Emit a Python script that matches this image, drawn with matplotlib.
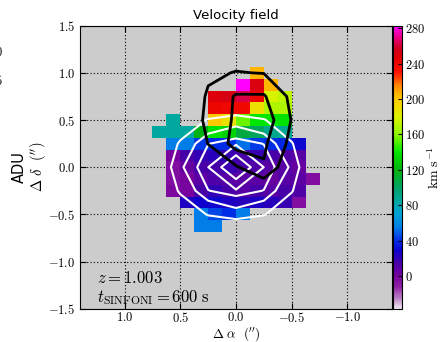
import numpy as np
import matplotlib
matplotlib.use('Agg')
import matplotlib.pyplot as plt
from matplotlib.colors import LinearSegmentedColormap

plt.rcParams['mathtext.fontset'] = 'cm'
plt.rcParams['font.family'] = ['DejaVu Sans']

nan = np.nan

# ---- velocity map (SINFONI pixels, 0.125") ----
alpha_pix = [0.6875, 0.5625, 0.4375, 0.3125, 0.1875, 0.0625,
             -0.0625, -0.1875, -0.3125, -0.4375, -0.5625, -0.6875]
delta_pix = [1.0, 0.875, 0.75, 0.625, 0.5, 0.375, 0.25, 0.125,
             0.0, -0.125, -0.25, -0.375, -0.5, -0.625]
velocity = [
    [nan, nan, nan, nan, nan, nan, nan, 205, nan, nan, nan, nan],
    [nan, nan, nan, nan, nan, nan, 283, 250, 205, nan, nan, nan],
    [nan, nan, nan, nan, 248, 252, 262, 240, 178, 172, nan, nan],
    [nan, nan, nan, nan, 240, 238, 238, 190, 168, 168, nan, nan],
    [nan, 85, nan, nan, 200, 188, 155, 140, 140, 138, nan, nan],
    [85, 85, 85, 118, 138, 132, 108, 102, 90, 88, nan, nan],
    [nan, 55, 55, 42, 40, 40, 52, 42, 40, 38, 30, nan],
    [nan, 0, 15, 20, 22, 18, 15, 18, 15, 12, 10, nan],
    [nan, -5, 5, 15, 15, 18, 15, 12, 10, 10, 5, nan],
    [nan, -5, 0, 8, 12, 10, 8, 8, 5, 10, 8, -5],
    [nan, -3, 0, 15, 20, 15, 10, 15, 10, 15, 12, nan],
    [nan, nan, 25, 28, 30, 25, 22, 25, 22, 18, -5, nan],
    [nan, nan, nan, 55, 45, 40, 55, nan, nan, nan, nan, nan],
    [nan, nan, nan, 55, 55, nan, nan, nan, nan, nan, nan, nan],
]
vel_range = [-37, 283]

# ---- continuum flux (white contours) ----
alpha_cont = [0.75, 0.5, 0.25, 0.0, -0.25, -0.5, -0.75]
delta_cont = [0.75, 0.5, 0.25, 0.0, -0.25, -0.5, -0.75]
flux_cont = [
    [2, 5, 8, 7, 8, 5, 2],
    [5, 18, 31, 35.8, 31, 18, 5],
    [10, 32, 44.8, 47.6, 44.8, 31, 9],
    [15, 37.6, 49.8, 93, 49.8, 37.6, 10],
    [10, 32, 44.8, 47.6, 44.8, 31, 9],
    [5, 18, 31, 35.8, 31, 18, 5],
    [2, 5, 8, 7, 8, 5, 2],
]
levels_cont = [30, 39, 45, 50, 70]

# ---- line flux (black contours) ----
alpha_line = [0.75, 0.5, 0.25, 0.0, -0.25, -0.5, -0.75]
delta_line = [1.25, 1.0, 0.75, 0.5, 0.25, 0.0, -0.25]
flux_line = [
    [0, 0, 0.2, 0.5, 0.4, 0.1, 0],
    [0, 0.1, 0.84, 1.04, 0.97, 0.4, 0],
    [0, 0, 1.13, 2.1, 2.1, 0.76, 0],
    [0, 0, 1.25, 2.15, 2.6, 0.95, 0],
    [0, 0, 1.02, 2.4, 2.18, 0.71, 0],
    [0, 0, 0.3, 0.9, 1.9, 0.1, 0],
    [0, 0, 0, 0, 0, 0, 0],
]
levels_line = [1.0, 2.0]

xticks = [1.0, 0.5, 0.0, -0.5, -1.0]
xticklabels = ['1.0', '0.5', '0.0', '-0.5', '-1.0']
yticks = [-1.5, -1.0, -0.5, 0.0, 0.5, 1.0, 1.5]
yticklabels = ['-1.5', '-1.0', '-0.5', '0.0', '0.5', '1.0', '1.5']
cbticks = [0, 40, 80, 120, 160, 200, 240, 280]

# colormap (value, colour)
cmap_nodes = [
    (-37, (0.92, 0.88, 0.93)), (-25, (0.72, 0.48, 0.76)), (-12, (0.56, 0.12, 0.64)),
    (0, (0.46, 0.0, 0.62)), (15, (0.27, 0.0, 0.66)), (28, (0.06, 0.0, 0.80)),
    (40, (0.0, 0.18, 0.90)), (55, (0.0, 0.50, 0.90)), (70, (0.0, 0.64, 0.84)),
    (85, (0.0, 0.66, 0.62)), (100, (0.0, 0.64, 0.40)), (120, (0.0, 0.70, 0.05)),
    (140, (0.0, 0.90, 0.0)), (160, (0.55, 0.97, 0.0)), (180, (0.86, 0.95, 0.0)),
    (200, (1.0, 0.80, 0.0)), (215, (1.0, 0.55, 0.0)), (230, (1.0, 0.08, 0.0)),
    (245, (0.90, 0.0, 0.0)), (258, (0.80, 0.0, 0.12)), (270, (0.92, 0.0, 0.50)),
    (283, (1.0, 0.0, 1.0)),
]
vmin, vmax = vel_range
cmap = LinearSegmentedColormap.from_list(
    'vel', [((v - vmin) / (vmax - vmin), c) for v, c in cmap_nodes])

fig = plt.figure(figsize=(4.42, 3.42), dpi=100)
ax = fig.add_axes([80 / 442, 1 - 308.7 / 342, 312 / 442, 283 / 342])
ax.set_facecolor('#cccccc')

V = np.ma.masked_invalid(np.array(velocity, dtype=float))
ap = np.array(alpha_pix)
dp = np.array(delta_pix)
ha = abs(ap[1] - ap[0]) / 2
hd = abs(dp[1] - dp[0]) / 2
aedges = np.concatenate([ap + ha, [ap[-1] - ha]])
dedges = np.concatenate([dp + hd, [dp[-1] - hd]])
mesh = ax.pcolormesh(aedges, dedges, V, cmap=cmap, vmin=vmin, vmax=vmax,
                     shading='flat', zorder=1)

ax.contour(alpha_cont, delta_cont, np.array(flux_cont), levels=levels_cont,
           colors='white', linewidths=1.5, zorder=3)
ax.contour(alpha_line, delta_line, np.array(flux_line), levels=levels_line,
           colors='black', linewidths=2.0, zorder=4)

ax.set_xlim(1.4, -1.4)
ax.set_ylim(-1.5, 1.5)
ax.set_axisbelow(True)
ax.grid(True, color='black', linestyle=(0, (1, 2)), linewidth=0.8)
ax.set_xticks(xticks)
ax.set_xticklabels(['$' + t + '$' for t in xticklabels], fontsize=9)
ax.set_yticks(yticks)
ax.set_yticklabels(['$' + t + '$' for t in yticklabels], fontsize=9)
ax.tick_params(direction='in', top=True, right=True, length=4)
ax.tick_params(axis='x', pad=2)
ax.set_xlabel(r'$\Delta\ \alpha\ \ (^{\prime\prime})$', fontsize=9.5)
ax.xaxis.set_label_coords(0.5, (308.7 - 334) / 283)
ax.xaxis.label.set_verticalalignment('center')
ax.set_ylabel(r'$\Delta\ \delta\ \ (^{\prime\prime})$', fontsize=10.5, labelpad=0)
ax.set_title('Velocity field', fontsize=9.5, pad=5)

ax.text(1.25, -1.17, r'$z = 1.003$', fontsize=12, va='center', ha='left')
ax.text(1.25, -1.385, r'$t_{\mathrm{SINFONI}} = 600\ \mathrm{s}$', fontsize=12,
        va='center', ha='left')

cax = fig.add_axes([392.5 / 442, 1 - 308.7 / 342, 9.5 / 442, 283 / 342])
cb = fig.colorbar(mesh, cax=cax, ticks=cbticks)
cb.ax.set_yticklabels(['$%d$' % t for t in cbticks], fontsize=9)
cb.ax.tick_params(direction='in', length=3, pad=2)
cb.set_label(r'$\mathrm{km\ s^{-1}}$', fontsize=10, labelpad=1)

# fragments of the neighbouring panel
fig.text(3 / 442, 1 - 52 / 342, '$1.0$', ha='right', va='center', fontsize=9)
fig.text(3 / 442, 1 - 81 / 342, '$0.5$', ha='right', va='center', fontsize=9)
fig.text(19 / 442, 1 - 167 / 342, 'ADU', rotation=90, ha='center', va='center',
         fontsize=10.5)

fig.savefig('out.png', dpi=100)
